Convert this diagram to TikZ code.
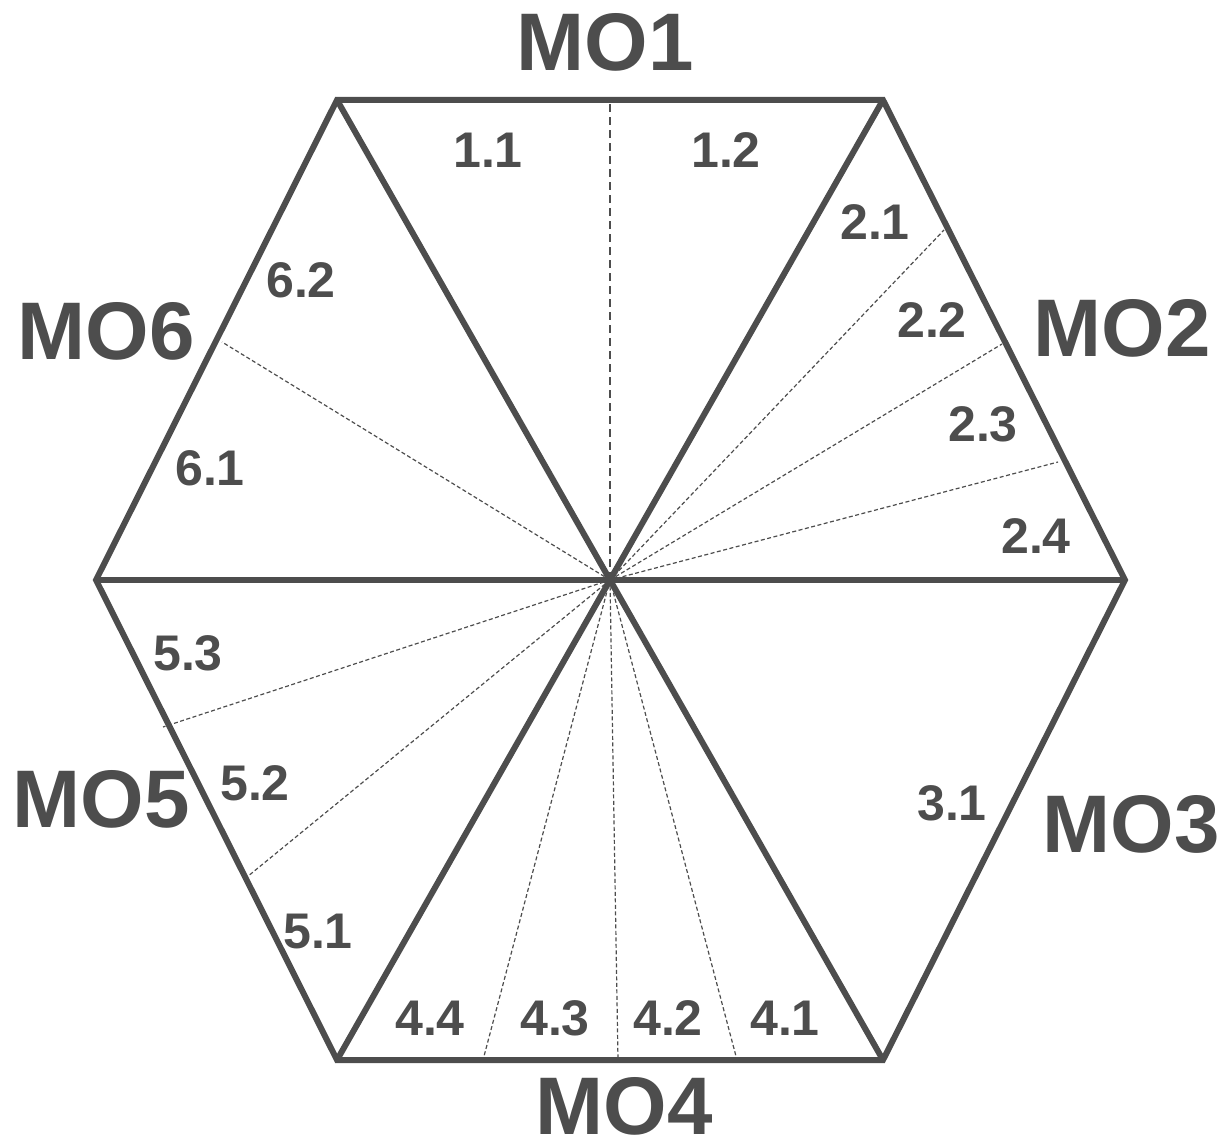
\documentclass[tikz,border=0pt]{standalone}
\usepackage{fontspec}
\setmainfont{Liberation Sans}
\definecolor{ink}{HTML}{4D4D4D}
\begin{document}
\begin{tikzpicture}[x=0.02cm,y=-0.02cm,
  edge/.style={draw=ink,line width=6*0.02cm,line join=miter},
  mainsplit/.style={draw=ink,line width=2*0.02cm,dash pattern=on 8*0.02cm off 5*0.02cm},
  subsplit/.style={draw=ink,line width=1.2*0.02cm,dash pattern=on 4*0.02cm off 2.5*0.02cm},
  molabel/.style={text=ink,inner sep=0pt,font=\fontsize{46.5}{50}\selectfont\bfseries},
  sublabel/.style={text=ink,inner sep=0pt,font=\fontsize{28.5}{30}\selectfont\bfseries}]
\useasboundingbox (0,0) rectangle (1227,1141);
% hexagon corners and centre
\coordinate (C)  at (610,580);
\coordinate (TL) at (337,100);
\coordinate (TR) at (883,100);
\coordinate (R)  at (1125,580);
\coordinate (BR) at (883,1060);
\coordinate (BL) at (337,1060);
\coordinate (L)  at (96,580);
% end points of the dashed sub-divisions
\coordinate (d1)  at (610,100);
\coordinate (d21) at (944,230);
\coordinate (d22) at (1002,344);
\coordinate (d23) at (1058,462);
\coordinate (d41) at (737,1060);
\coordinate (d42) at (618,1060);
\coordinate (d43) at (483,1060);
\coordinate (d51) at (247,877);
\coordinate (d52) at (163,727);
\coordinate (d61) at (222,342);
% dashed sub-divisions
\draw[mainsplit] (C) -- (d1);
\foreach \p in {d21,d22,d23,d41,d42,d43,d51,d52,d61}
  \draw[subsplit] (C) -- (\p);
% outline and the three main diagonals
\draw[edge] (TL) -- (TR) -- (R) -- (BR) -- (BL) -- (L) -- cycle;
\draw[edge] (TL) -- (BR);
\draw[edge] (TR) -- (BL);
\draw[edge] (L) -- (R);
% objective labels
\node[molabel] (mo1) at (605,42)  {MO1};
\node[molabel] (mo2) at (1122,328) {MO2};
\node[molabel] (mo3) at (1131,824) {MO3};
\node[molabel] (mo4) at (624,1106) {MO4};
\node[molabel] (mo5) at (101,799) {MO5};
\node[molabel] (mo6) at (106,331) {MO6};
% sub-objective labels
\node[sublabel] (s11) at (488,150) {1.1};
\node[sublabel] (s12) at (726,150) {1.2};
\node[sublabel] (s21) at (875,222) {2.1};
\node[sublabel] (s22) at (932,320) {2.2};
\node[sublabel] (s23) at (983,424) {2.3};
\node[sublabel] (s24) at (1036,536) {2.4};
\node[sublabel] (s31) at (952,803) {3.1};
\node[sublabel] (s41) at (785,1018) {4.1};
\node[sublabel] (s42) at (668,1018) {4.2};
\node[sublabel] (s43) at (555,1018) {4.3};
\node[sublabel] (s44) at (430,1018) {4.4};
\node[sublabel] (s51) at (318,932) {5.1};
\node[sublabel] (s52) at (255,783) {5.2};
\node[sublabel] (s53) at (188,653) {5.3};
\node[sublabel] (s61) at (210,468) {6.1};
\node[sublabel] (s62) at (301,280) {6.2};
\end{tikzpicture}
\end{document}
